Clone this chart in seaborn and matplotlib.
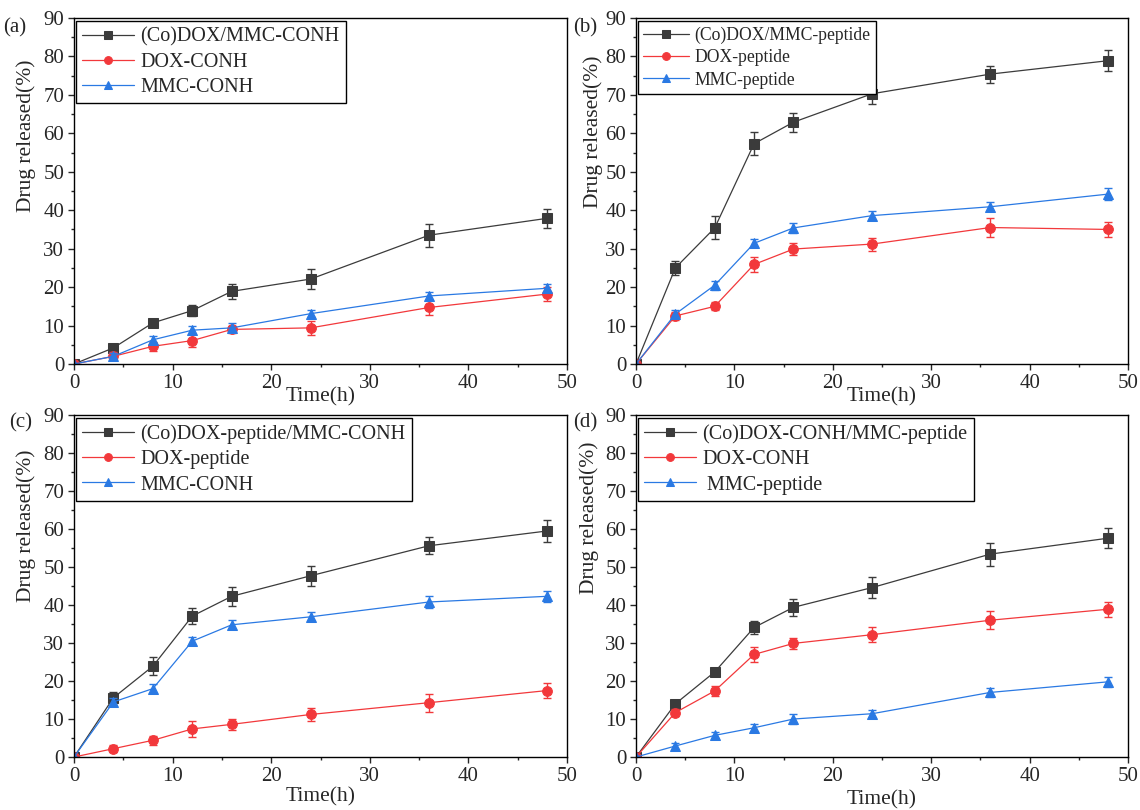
import matplotlib
matplotlib.use("Agg")
import matplotlib.pyplot as plt
import seaborn as sns
from matplotlib.ticker import MultipleLocator

sns.set_style("ticks")
plt.rcParams['font.family'] = ['Liberation Serif', 'DejaVu Serif']
plt.rcParams['mathtext.fontset'] = 'stix'

# sampling times (h)
time_h = [0, 4, 8, 12, 16, 24, 36, 48]

# (a)
a_labels = ["(Co)DOX/MMC-CONH", "DOX-CONH", "MMC-CONH"]
a_black = [0, 4.2, 10.7, 13.9, 18.9, 22.1, 33.5, 37.9]
a_black_err = [0, 1.0, 0.8, 1.5, 2.0, 2.5, 3.0, 2.5]
a_red = [0, 2.0, 4.6, 6.1, 9.0, 9.4, 14.7, 18.2]
a_red_err = [0, 1.0, 1.2, 1.8, 1.0, 1.8, 2.0, 1.8]
a_blue = [0, 2.0, 6.3, 8.8, 9.4, 13.1, 17.7, 19.7]
a_blue_err = [0, 0.8, 1.0, 1.0, 1.2, 1.0, 1.0, 1.0]

# (b)
b_labels = ["(Co)DOX/MMC-peptide", "DOX-peptide", "MMC-peptide"]
b_black = [0, 25.0, 35.4, 57.3, 62.9, 70.3, 75.4, 78.9]
b_black_err = [0, 1.8, 3.0, 3.0, 2.5, 2.8, 2.2, 2.8]
b_red = [0, 12.5, 15.0, 25.9, 29.9, 31.2, 35.5, 35.0]
b_red_err = [0, 1.0, 1.0, 2.0, 1.5, 1.7, 2.4, 2.0]
b_blue = [0, 13.0, 20.5, 31.4, 35.4, 38.6, 40.9, 44.2]
b_blue_err = [0, 1.0, 1.2, 1.0, 1.2, 1.2, 1.2, 1.5]

# (c)
c_labels = ["(Co)DOX-peptide/MMC-CONH", "DOX-peptide", "MMC-CONH"]
c_black = [0, 15.6, 23.9, 37.1, 42.3, 47.7, 55.6, 59.5]
c_black_err = [0, 1.5, 2.4, 2.0, 2.5, 2.7, 2.3, 3.0]
c_red = [0, 2.2, 4.4, 7.4, 8.6, 11.2, 14.3, 17.5]
c_red_err = [0, 1.0, 1.2, 2.0, 1.5, 1.8, 2.4, 2.0]
c_blue = [0, 14.5, 18.0, 30.5, 34.8, 36.9, 40.8, 42.3]
c_blue_err = [0, 1.0, 1.2, 1.0, 1.2, 1.2, 1.5, 1.5]

# (d)
d_labels = ["(Co)DOX-CONH/MMC-peptide", "DOX-CONH", " MMC-peptide"]
d_black = [0, 14.0, 22.4, 34.1, 39.4, 44.6, 53.4, 57.6]
d_black_err = [0, 1.0, 1.0, 1.8, 2.2, 2.7, 3.0, 2.7]
d_red = [0, 11.7, 17.4, 27.0, 29.9, 32.2, 36.0, 38.9]
d_red_err = [0, 1.0, 1.3, 2.0, 1.5, 2.0, 2.4, 2.0]
d_blue = [0, 2.9, 5.7, 7.7, 10.0, 11.4, 17.0, 19.8]
d_blue_err = [0, 0.8, 0.8, 1.0, 1.2, 1.0, 1.2, 1.3]

colors = ["#3b3b3b", "#f2383b", "#2a79e3"]
markers = ["s", "o", "^"]

fig = plt.figure(figsize=(11.4, 8.1), dpi=100)

# axes boxes in figure fractions
boxes = {
    "a": [0.0649, 0.5506, 0.4325, 0.4272],
    "b": [0.5579, 0.5506, 0.4316, 0.4272],
    "c": [0.0649, 0.0654, 0.4325, 0.4222],
    "d": [0.5579, 0.0654, 0.4316, 0.4222],
}

panels = [
    ("a", a_labels, [a_black, a_red, a_blue], [a_black_err, a_red_err, a_blue_err]),
    ("b", b_labels, [b_black, b_red, b_blue], [b_black_err, b_red_err, b_blue_err]),
    ("c", c_labels, [c_black, c_red, c_blue], [c_black_err, c_red_err, c_blue_err]),
    ("d", d_labels, [d_black, d_red, d_blue], [d_black_err, d_red_err, d_blue_err]),
]

# per-panel label placement (axes fraction)
ylab_pos = {"a": (-0.077, 0.66), "b": (-0.067, 0.67), "c": (-0.077, 0.675), "d": (-0.075, 0.70)}
xlab_pos = {"a": -0.066, "b": -0.066, "c": -0.088, "d": -0.096}
leg_size = {"a": 14.5, "b": 12.7, "c": 14.5, "d": 14.5}
tag_pos = {"a": (0.003, 0.965), "b": (0.503, 0.965), "c": (0.008, 0.478), "d": (0.503, 0.478)}

for key, labels, series, errs in panels:
    ax = fig.add_axes(boxes[key])
    for vals, err, lab, col, mk in zip(series, errs, labels, colors, markers):
        ax.errorbar(time_h, vals, yerr=err, fmt="none", ecolor=col,
                    elinewidth=1.0, capsize=2.8, capthick=1.0)
        sns.lineplot(x=time_h, y=vals, color=col, marker=mk, markersize=7,
                     markeredgecolor=col, linewidth=0.9, label=lab, ax=ax)
    ax.set_xlim(0, 50)
    ax.set_ylim(0, 90)
    ax.xaxis.set_major_locator(MultipleLocator(10))
    ax.xaxis.set_minor_locator(MultipleLocator(5))
    ax.yaxis.set_major_locator(MultipleLocator(10))
    ax.yaxis.set_minor_locator(MultipleLocator(5))
    ax.tick_params(which="both", direction="out", top=False, right=False,
                   width=1.0, labelsize=15)
    ax.tick_params(which="major", length=4, pad=3)
    ax.tick_params(which="minor", length=2.5)
    for sp in ax.spines.values():
        sp.set_linewidth(1.0)
        sp.set_color("black")
    ax.set_xlabel("Time(h)", fontsize=15.5)
    ax.set_ylabel("Drug released(%)", fontsize=15.5)
    ax.xaxis.set_label_coords(0.5, xlab_pos[key])
    ax.yaxis.set_label_coords(*ylab_pos[key])
    leg = ax.legend(loc="upper left", bbox_to_anchor=(0.004, 0.99),
                    borderaxespad=0, fontsize=leg_size[key], frameon=True,
                    fancybox=False, framealpha=1, edgecolor="black",
                    handlelength=2.6, handletextpad=0.3, labelspacing=0.3,
                    borderpad=0.3, markerscale=0.8)
    leg.get_frame().set_linewidth(1.0)
    fig.text(tag_pos[key][0], tag_pos[key][1], "(" + key + ")", fontsize=15,
             ha="left", va="center")

fig.savefig("out.png", dpi=100)
